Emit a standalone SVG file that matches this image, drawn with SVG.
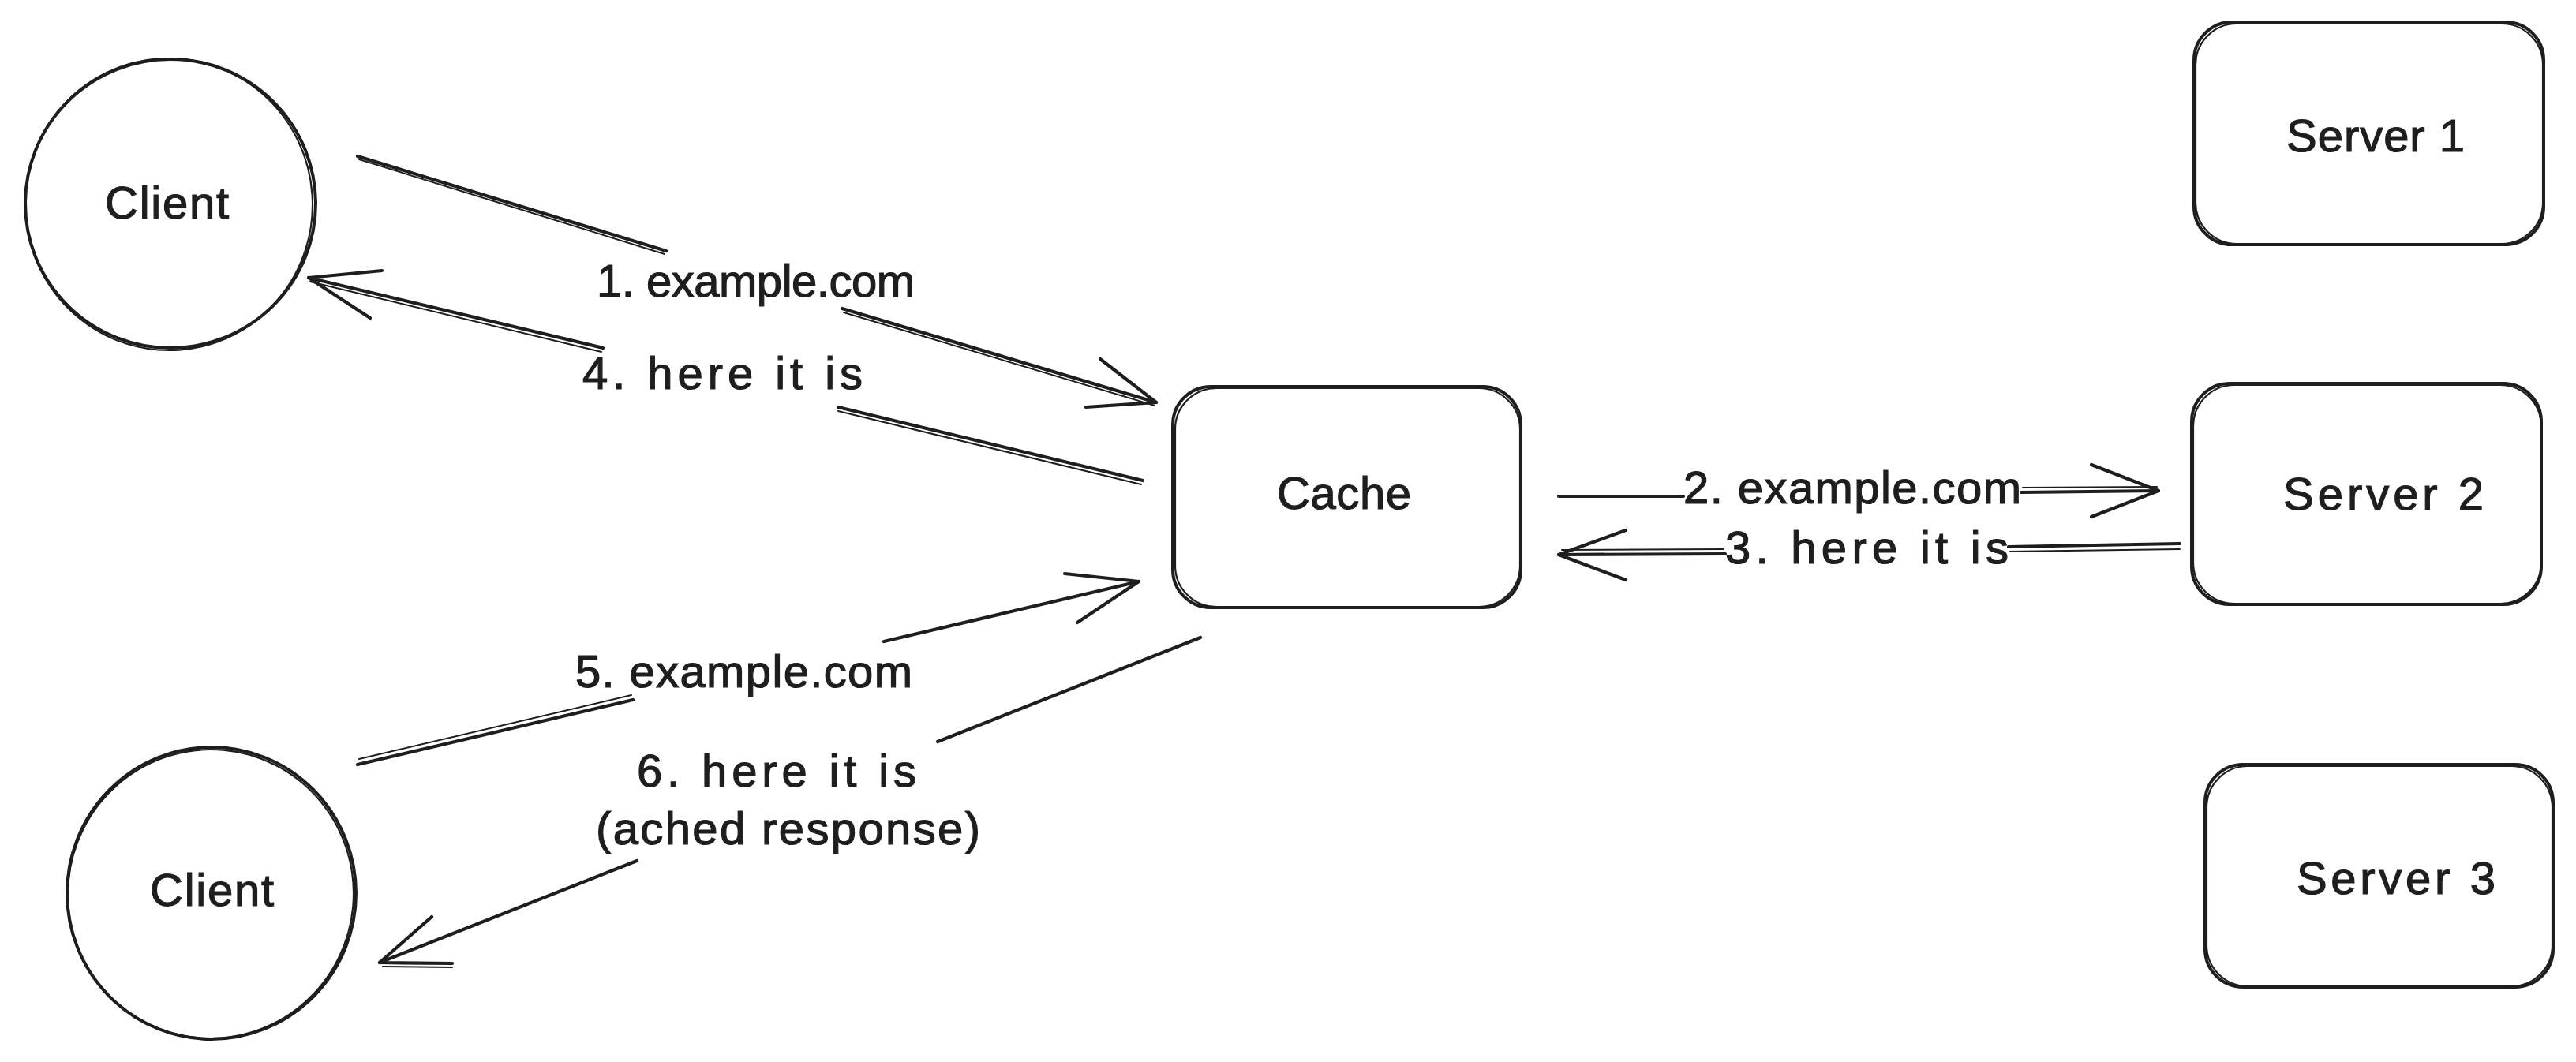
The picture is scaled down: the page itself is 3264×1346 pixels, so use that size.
<svg xmlns="http://www.w3.org/2000/svg" width="3264" height="1346" viewBox="0 0 3264 1346">
<style>
.shape{fill:none;stroke:#1e1e1e;stroke-width:4;stroke-linecap:round;stroke-linejoin:round}
.shape2{fill:none;stroke:#1e1e1e;stroke-width:2.2;stroke-linecap:round;stroke-linejoin:round}
.line{fill:none;stroke:#1e1e1e;stroke-width:4.2;stroke-linecap:round;stroke-linejoin:round}
.line2{fill:none;stroke:#1e1e1e;stroke-width:2;stroke-linecap:round}
.lbl{font-family:"Liberation Sans",Arial,sans-serif;font-size:58px;fill:#1e1e1e;stroke:#1e1e1e;stroke-width:1.2}
</style>
<rect x="0" y="0" width="3264" height="1346" fill="#ffffff"/>

<g id="client1">
  <ellipse class="shape" cx="216" cy="258" rx="184" ry="183"/>
  <ellipse class="shape2" cx="214" cy="259" rx="182" ry="185" transform="rotate(-4 214 259)"/>
  <text class="lbl" x="133" y="277" textLength="157">Client</text>
</g>

<g id="client2">
  <ellipse class="shape" cx="268" cy="1132" rx="183" ry="185"/>
  <ellipse class="shape2" cx="267" cy="1133" rx="181" ry="183" transform="rotate(5 267 1133)"/>
  <text class="lbl" x="190" y="1148" textLength="157">Client</text>
</g>

<g id="cache">
  <rect class="shape" x="1486" y="490" width="441" height="280" rx="48"/>
  <rect class="shape2" x="1489" y="492" width="437" height="277" rx="52"/>
  <text class="lbl" x="1618" y="645" textLength="170">Cache</text>
</g>

<g id="server1">
  <rect class="shape" x="2780" y="28" width="443" height="282" rx="48"/>
  <rect class="shape2" x="2782" y="30" width="440" height="279" rx="52"/>
  <text class="lbl" x="2897" y="192" textLength="226">Server 1</text>
</g>

<g id="server2">
  <rect class="shape" x="2777" y="486" width="443" height="280" rx="48"/>
  <rect class="shape2" x="2779" y="488" width="441" height="277" rx="52"/>
  <text class="lbl" x="2893" y="646" textLength="254">Server 2</text>
</g>

<g id="server3">
  <rect class="shape" x="2794" y="969" width="441" height="282" rx="48"/>
  <rect class="shape2" x="2796" y="971" width="438" height="279" rx="52"/>
  <text class="lbl" x="2910" y="1133" textLength="252">Server 3</text>
</g>

<g id="connectors">
  <g id="edge1">
    <path class="line" d="M453 198 L844 318 M1067 391 L1465 510"/>
    <path class="line2" d="M455 202 L842 322 M1069 396 L1463 514"/>
    <path class="line" d="M1394 455 L1465 510 L1376 516"/>
    <text class="lbl" x="756" y="376" textLength="403">1. example.com</text>
  </g>
  <g id="edge2">
    <path class="line" d="M1975 629 L2133 629 M2561 624 L2735 622"/>
    <path class="line2" d="M2563 618 L2733 617"/>
    <path class="line" d="M2650 589 L2735 622 L2650 655"/>
    <text class="lbl" x="2133" y="638" textLength="428">2. example.com</text>
  </g>
  <g id="edge3">
    <path class="line" d="M2762 689 L2545 693 M2186 702 L1975 703"/>
    <path class="line2" d="M2762 696 L2547 699 M2184 696 L1979 697"/>
    <path class="line" d="M2060 672 L1975 703 L2060 735"/>
    <text class="lbl" x="2186" y="714" textLength="359">3. here it is</text>
  </g>
  <g id="edge4">
    <path class="line" d="M1448 609 L1062 516 M764 441 L391 352"/>
    <path class="line2" d="M1446 614 L1062 521 M762 446 L393 357"/>
    <path class="line" d="M484 343 L391 352 L469 403"/>
    <text class="lbl" x="738" y="493" textLength="355">4. here it is</text>
  </g>
  <g id="edge5">
    <path class="line" d="M453 969 L802 887 M1120 813 L1443 737"/>
    <path class="line2" d="M455 962 L800 881"/>
    <path class="line" d="M1349 727 L1443 737 L1365 789"/>
    <text class="lbl" x="729" y="871" textLength="427">5. example.com</text>
  </g>
  <g id="edge6">
    <path class="line" d="M1521 808 L1188 940 M807 1091 L481 1220"/>
    <path class="line" d="M547 1162 L481 1220 L573 1221"/>
    <path class="line2" d="M485 1225 L573 1226"/>
    <text class="lbl" x="807" y="997" textLength="354">6. here it is</text>
    <text class="lbl" x="755" y="1070" textLength="487">(ached response)</text>
  </g>
</g>
</svg>
